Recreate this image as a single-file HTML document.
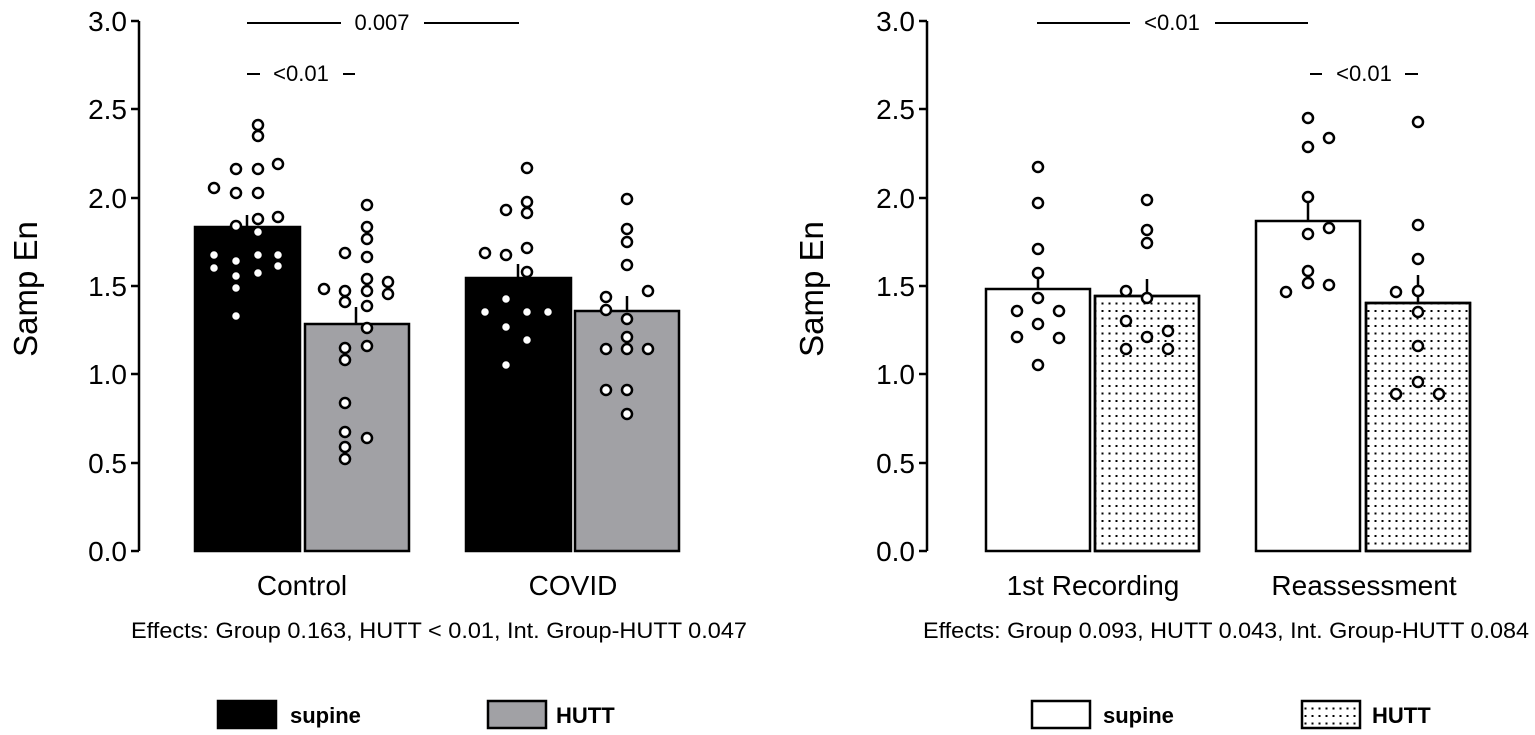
<!DOCTYPE html>
<html><head><meta charset="utf-8"><style>
html,body{margin:0;padding:0;background:#fff;}
svg{display:block;font-family:"Liberation Sans",Arial,sans-serif;}
</style></head><body>
<svg width="1535" height="735" viewBox="0 0 1535 735" xmlns="http://www.w3.org/2000/svg">
<defs>
<pattern id="dots" x="0" y="0" width="7" height="7.5" patternUnits="userSpaceOnUse">
<rect x="2.5" y="2.5" width="2" height="2" fill="#000"/>
</pattern>
</defs>
<!-- LEFT AXIS -->
<g stroke="#000" stroke-width="2.5" fill="none">
<line x1="139" y1="21" x2="139" y2="551"/>
<line x1="131" y1="21" x2="139" y2="21"/>
<line x1="131" y1="109" x2="139" y2="109"/>
<line x1="131" y1="198" x2="139" y2="198"/>
<line x1="131" y1="286" x2="139" y2="286"/>
<line x1="131" y1="374" x2="139" y2="374"/>
<line x1="131" y1="463" x2="139" y2="463"/>
<line x1="131" y1="551" x2="139" y2="551"/>
</g>
<g font-size="28" text-anchor="end" fill="#000">
<text x="127" y="31">3.0</text><text x="127" y="119">2.5</text><text x="127" y="208">2.0</text>
<text x="127" y="296">1.5</text><text x="127" y="384">1.0</text><text x="127" y="473">0.5</text><text x="127" y="561">0.0</text>
</g>
<text transform="translate(37,289) rotate(-90)" font-size="33" text-anchor="middle">Samp En</text>
<!-- RIGHT AXIS -->
<g stroke="#000" stroke-width="2.5" fill="none">
<line x1="927" y1="21" x2="927" y2="551"/>
<line x1="919" y1="21" x2="927" y2="21"/>
<line x1="919" y1="109" x2="927" y2="109"/>
<line x1="919" y1="198" x2="927" y2="198"/>
<line x1="919" y1="286" x2="927" y2="286"/>
<line x1="919" y1="374" x2="927" y2="374"/>
<line x1="919" y1="463" x2="927" y2="463"/>
<line x1="919" y1="551" x2="927" y2="551"/>
</g>
<g font-size="28" text-anchor="end" fill="#000">
<text x="915" y="31">3.0</text><text x="915" y="119">2.5</text><text x="915" y="208">2.0</text>
<text x="915" y="296">1.5</text><text x="915" y="384">1.0</text><text x="915" y="473">0.5</text><text x="915" y="561">0.0</text>
</g>
<text transform="translate(823,289) rotate(-90)" font-size="33" text-anchor="middle">Samp En</text>

<!-- LEFT BARS -->
<g stroke="#000" stroke-width="2.5">
<rect x="195" y="227" width="105" height="324" fill="#000"/>
<rect x="305" y="324" width="104" height="227" fill="#a1a1a5"/>
<rect x="466" y="278" width="105" height="273" fill="#000"/>
<rect x="575" y="311" width="104" height="240" fill="#a1a1a5"/>
<line x1="247" y1="227" x2="247" y2="215"/>
<line x1="356" y1="324" x2="356" y2="307"/>
<line x1="518" y1="278" x2="518" y2="264"/>
<line x1="627" y1="311" x2="627" y2="296"/>
</g>
<g fill="#fff" stroke="#000" stroke-width="2.5">
<circle cx="258" cy="125" r="5"/><circle cx="258" cy="136" r="5"/>
<circle cx="236" cy="169" r="5"/><circle cx="258" cy="169" r="5"/><circle cx="278" cy="164" r="5"/>
<circle cx="214" cy="188" r="5"/><circle cx="236" cy="193" r="5"/><circle cx="258" cy="193" r="5"/>
<circle cx="236" cy="226" r="5"/><circle cx="258" cy="219" r="5"/><circle cx="278" cy="217" r="5"/>
<circle cx="258" cy="232" r="5"/><circle cx="214" cy="255" r="5"/><circle cx="236" cy="261" r="5"/>
<circle cx="258" cy="255" r="5"/><circle cx="278" cy="255" r="5"/><circle cx="214" cy="268" r="5"/>
<circle cx="278" cy="266" r="5"/><circle cx="258" cy="273" r="5"/><circle cx="236" cy="276" r="5"/>
<circle cx="236" cy="288" r="5"/><circle cx="236" cy="316" r="5"/>

<circle cx="367" cy="205" r="5"/><circle cx="367" cy="227" r="5"/><circle cx="367" cy="239" r="5"/>
<circle cx="345" cy="253" r="5"/><circle cx="367" cy="257" r="5"/><circle cx="367" cy="279" r="5"/>
<circle cx="388" cy="282" r="5"/><circle cx="324" cy="289" r="5"/><circle cx="345" cy="291" r="5"/>
<circle cx="367" cy="291" r="5"/><circle cx="388" cy="294" r="5"/><circle cx="345" cy="302" r="5"/>
<circle cx="367" cy="306" r="5"/><circle cx="367" cy="328" r="5"/><circle cx="367" cy="346" r="5"/>
<circle cx="345" cy="348" r="5"/><circle cx="345" cy="360" r="5"/><circle cx="345" cy="403" r="5"/>
<circle cx="345" cy="432" r="5"/><circle cx="367" cy="438" r="5"/><circle cx="345" cy="447" r="5"/>
<circle cx="345" cy="459" r="5"/>

<circle cx="527" cy="168" r="5"/><circle cx="527" cy="202" r="5"/><circle cx="506" cy="210" r="5"/>
<circle cx="527" cy="213" r="5"/><circle cx="485" cy="253" r="5"/><circle cx="506" cy="255" r="5"/>
<circle cx="527" cy="248" r="5"/><circle cx="527" cy="272" r="5"/><circle cx="485" cy="312" r="5"/>
<circle cx="548" cy="312" r="5"/><circle cx="506" cy="299" r="5"/><circle cx="527" cy="312" r="5"/>
<circle cx="506" cy="327" r="5"/><circle cx="527" cy="340" r="5"/><circle cx="506" cy="365" r="5"/>

<circle cx="627" cy="199" r="5"/><circle cx="627" cy="229" r="5"/><circle cx="627" cy="242" r="5"/>
<circle cx="627" cy="265" r="5"/><circle cx="606" cy="297" r="5"/><circle cx="606" cy="310" r="5"/>
<circle cx="648" cy="291" r="5"/><circle cx="627" cy="319" r="5"/><circle cx="606" cy="349" r="5"/>
<circle cx="627" cy="349" r="5"/><circle cx="648" cy="349" r="5"/><circle cx="627" cy="337" r="5"/>
<circle cx="627" cy="390" r="5"/><circle cx="606" cy="390" r="5"/><circle cx="627" cy="414" r="5"/>
</g>

<!-- RIGHT BARS -->
<g stroke="#000" stroke-width="2.5">
<rect x="986" y="289" width="104" height="262" fill="#fff"/>
<rect x="1095" y="296" width="104" height="255" fill="#fff"/>
<rect x="1095" y="296" width="104" height="255" fill="url(#dots)"/>
<rect x="1256" y="221" width="104" height="330" fill="#fff"/>
<rect x="1366" y="303" width="104" height="248" fill="#fff"/>
<rect x="1366" y="303" width="104" height="248" fill="url(#dots)"/>
<line x1="1038" y1="289" x2="1038" y2="276"/>
<line x1="1147" y1="296" x2="1147" y2="279"/>
<line x1="1308" y1="221" x2="1308" y2="197"/>
<line x1="1418" y1="303" x2="1418" y2="275"/>
</g>
<g fill="#fff" stroke="#000" stroke-width="2.5">
<circle cx="1038" cy="167" r="5"/><circle cx="1038" cy="203" r="5"/><circle cx="1038" cy="249" r="5"/>
<circle cx="1038" cy="273" r="5"/><circle cx="1038" cy="298" r="5"/><circle cx="1017" cy="311" r="5"/>
<circle cx="1038" cy="324" r="5"/><circle cx="1059" cy="311" r="5"/><circle cx="1017" cy="337" r="5"/>
<circle cx="1059" cy="338" r="5"/><circle cx="1038" cy="365" r="5"/>

<circle cx="1147" cy="200" r="5"/><circle cx="1147" cy="230" r="5"/><circle cx="1147" cy="243" r="5"/>
<circle cx="1126" cy="291" r="5"/><circle cx="1147" cy="298" r="5"/><circle cx="1126" cy="321" r="5"/>
<circle cx="1147" cy="337" r="5"/><circle cx="1168" cy="331" r="5"/><circle cx="1126" cy="349" r="5"/>
<circle cx="1168" cy="349" r="5"/>

<circle cx="1308" cy="118" r="5"/><circle cx="1329" cy="138" r="5"/><circle cx="1308" cy="147" r="5"/>
<circle cx="1308" cy="197" r="5"/><circle cx="1308" cy="234" r="5"/><circle cx="1329" cy="228" r="5"/>
<circle cx="1308" cy="271" r="5"/><circle cx="1308" cy="283" r="5"/><circle cx="1329" cy="285" r="5"/>
<circle cx="1286" cy="292" r="5"/>

<circle cx="1418" cy="122" r="5"/><circle cx="1418" cy="225" r="5"/><circle cx="1418" cy="259" r="5"/>
<circle cx="1396" cy="292" r="5"/><circle cx="1418" cy="291" r="5"/><circle cx="1418" cy="312" r="5"/>
<circle cx="1418" cy="346" r="5"/><circle cx="1418" cy="382" r="5"/><circle cx="1396" cy="394" r="5"/>
<circle cx="1439" cy="394" r="5"/>
</g>

<!-- significance -->
<g stroke="#000" stroke-width="2">
<line x1="247" y1="23" x2="341" y2="23"/><line x1="424" y1="23" x2="519" y2="23"/>
<line x1="247" y1="74" x2="260" y2="74"/><line x1="343" y1="74" x2="355" y2="74"/>
<line x1="1037" y1="23" x2="1130" y2="23"/><line x1="1215" y1="23" x2="1308" y2="23"/>
<line x1="1310" y1="74" x2="1322" y2="74"/><line x1="1405" y1="74" x2="1418" y2="74"/>
</g>
<g font-size="22" text-anchor="middle">
<text x="382" y="30">0.007</text>
<text x="301" y="81">&lt;0.01</text>
<text x="1172" y="30">&lt;0.01</text>
<text x="1364" y="81">&lt;0.01</text>
</g>

<!-- category labels -->
<g font-size="28" text-anchor="middle">
<text x="302" y="595">Control</text>
<text x="573" y="595">COVID</text>
<text x="1093" y="595">1st Recording</text>
<text x="1364" y="595">Reassessment</text>
</g>
<g font-size="22" text-anchor="middle">
<text x="439" y="638" textLength="616" lengthAdjust="spacingAndGlyphs">Effects: Group 0.163, HUTT &lt; 0.01, Int. Group-HUTT 0.047</text>
<text x="1226" y="638" textLength="606" lengthAdjust="spacingAndGlyphs">Effects: Group 0.093, HUTT 0.043, Int. Group-HUTT 0.084</text>
</g>

<!-- legends -->
<g stroke="#000" stroke-width="2.5">
<rect x="218" y="701" width="58" height="27" fill="#000"/>
<rect x="488" y="701" width="58" height="27" fill="#a1a1a5"/>
<rect x="1032" y="701" width="58" height="27" fill="#fff"/>
<rect x="1302" y="701" width="58" height="27" fill="#fff"/>
<rect x="1302" y="701" width="58" height="27" fill="url(#dots)" stroke="none"/>
</g>
<g font-size="22" font-weight="bold">
<text x="290" y="723">supine</text>
<text x="556" y="723">HUTT</text>
<text x="1103" y="723">supine</text>
<text x="1372" y="723">HUTT</text>
</g>
</svg>
</body></html>
